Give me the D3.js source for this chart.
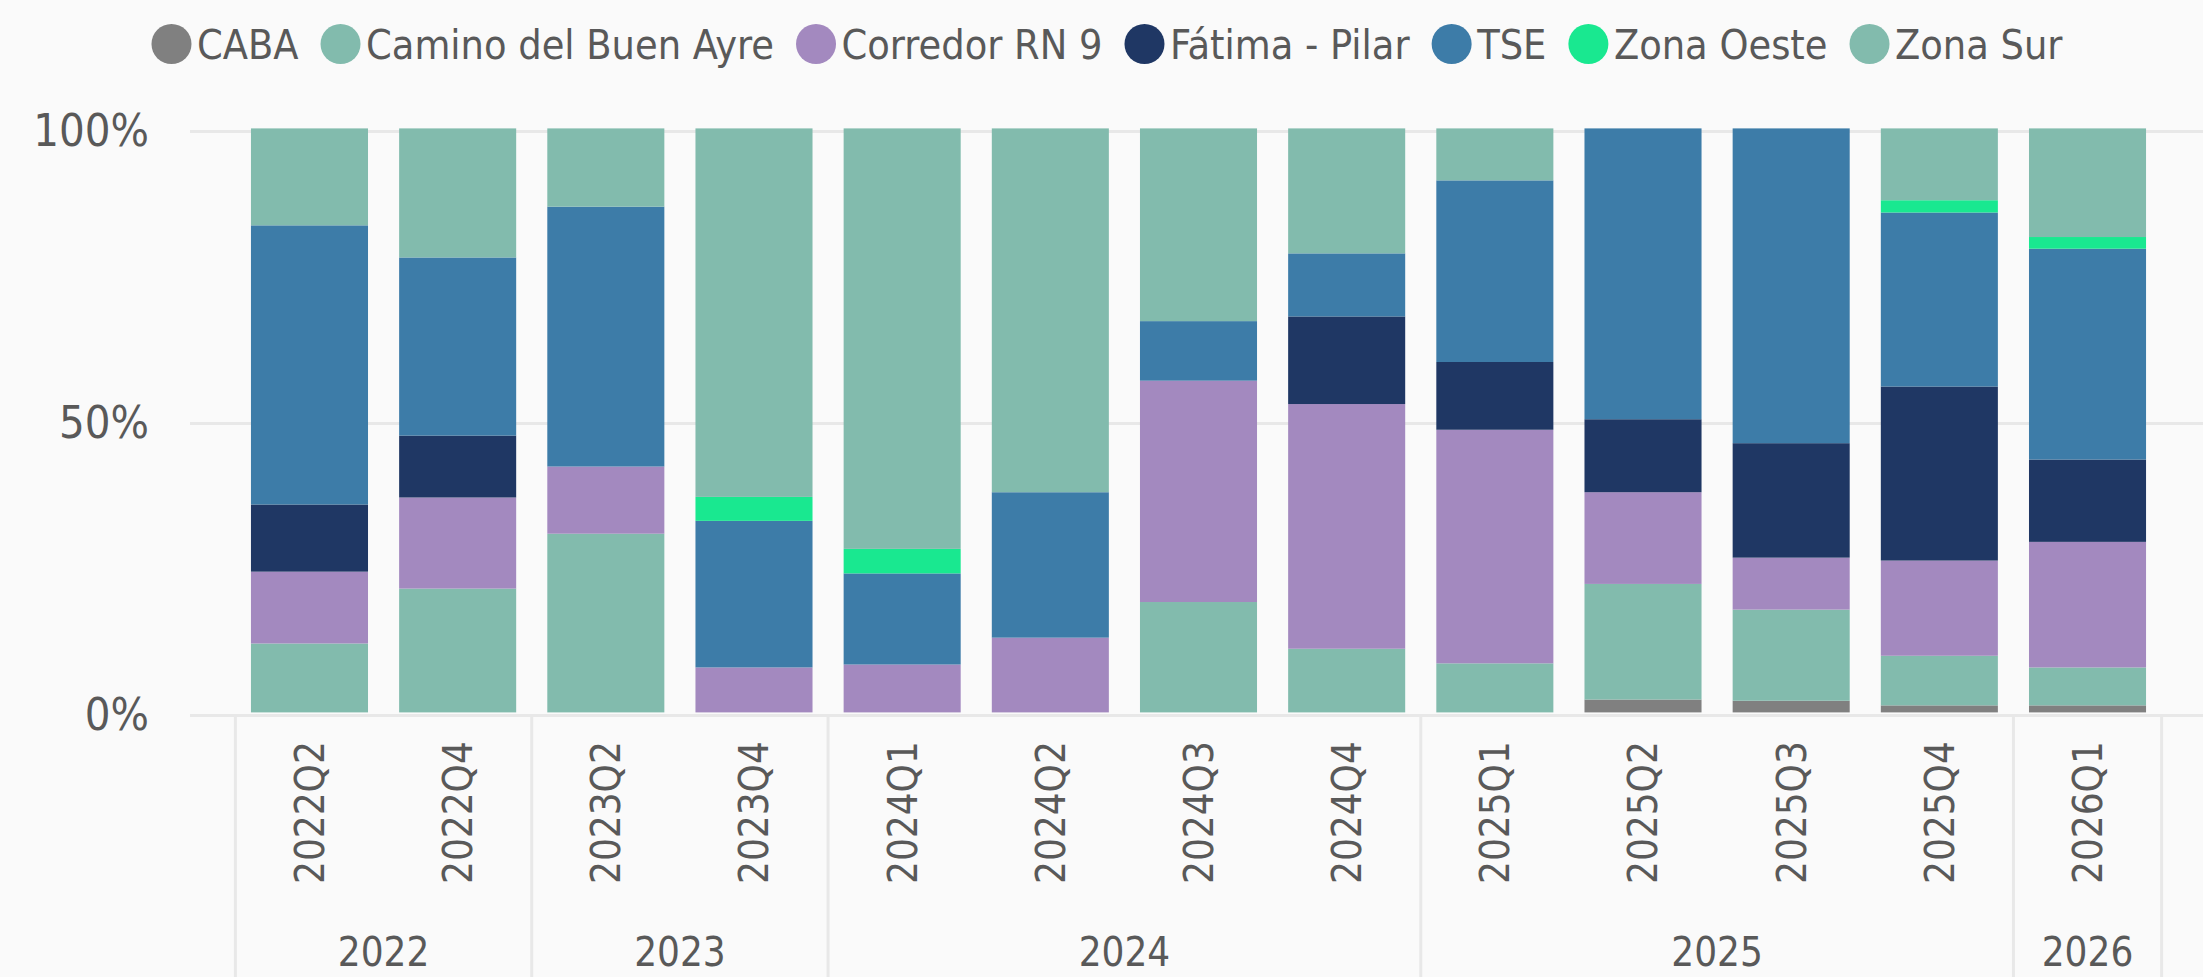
<!DOCTYPE html>
<html>
<head>
<meta charset="utf-8">
<script src="https://cdn.jsdelivr.net/npm/d3@7"></script>
<style>
  body { margin: 0; background: #fafafa; }
  svg { display: block; font-family: "DejaVu Sans Condensed", "DejaVu Sans", sans-serif; }
</style>
</head>
<body>
<div id="chart"></div>
<script>
//global data
var quarters = ['2022Q2', '2022Q4', '2023Q2', '2023Q4', '2024Q1', '2024Q2', '2024Q3', '2024Q4', '2025Q1', '2025Q2', '2025Q3', '2025Q4', '2026Q1'];
var yearLabels = ['2022', '2023', '2024', '2025', '2026'];
var seriesNames = ['CABA', 'Camino del Buen Ayre', 'Corredor RN 9', 'Fátima - Pilar', 'TSE', 'Zona Oeste', 'Zona Sur'];
var seriesColors = ['#808080', '#82bbad', '#a389bf', '#1f3764', '#3d7ca8', '#19e890', '#82bbad'];

// shares in %, one value per quarter
var caba     = [0, 0, 0, 0, 0, 0, 0, 0, 0, 2.2, 2.0, 1.2, 1.2];
var camino   = [11.8, 21.2, 30.6, 0, 0, 0, 18.9, 10.9, 8.4, 19.8, 15.6, 8.5, 6.5];
var corredor = [12.3, 15.6, 11.5, 7.7, 8.2, 12.8, 37.9, 41.9, 40.0, 15.7, 8.9, 16.3, 21.5];
var fatima   = [11.5, 10.6, 0, 0, 0, 0, 0, 15.0, 11.6, 12.5, 19.6, 29.8, 14.1];
var tse      = [47.8, 30.5, 44.5, 25.1, 15.6, 24.9, 10.2, 10.8, 31.1, 49.8, 53.9, 29.8, 36.1];
var oeste    = [0, 0, 0, 4.1, 4.2, 0, 0, 0, 0, 0, 0, 2.1, 2.0];
var sur      = [16.6, 22.1, 13.4, 63.1, 72.0, 62.3, 33.0, 21.4, 8.9, 0, 0, 12.3, 18.6];

var seriesValues = [caba, camino, corredor, fatima, tse, oeste, sur];

var width = 2203,
    height = 977;
var textColor = '#595959';
var gridColor = '#e8e8e8';

// build rows for d3.stack
var rows = quarters.map(function(q, i) {
  var row = { quarter: q, year: q.slice(0, 4) };
  seriesNames.forEach(function(name, k) {
    row[name] = seriesValues[k][i];
  });
  return row;
});

var stack = d3.stack()
  .keys(seriesNames)
  .offset(d3.stackOffsetExpand);
var layers = stack(rows);

//scales
var x = d3.scaleBand()
  .domain(quarters)
  .range([235.4, 2161.6])
  .paddingInner(0.21)
  .paddingOuter(0.105);

var y = d3.scaleLinear()
  .domain([0, 1])
  .range([712.4, 128.4]);

var color = d3.scaleOrdinal()
  .domain(seriesNames)
  .range(seriesColors);

var svg = d3.select('#chart').append('svg')
  .attr('width', width)
  .attr('height', height);

svg.append('rect')
  .attr('width', width)
  .attr('height', height)
  .attr('fill', '#fafafa');

//y axis with gridlines
var yAxis = svg.append('g')
  .attr('transform', 'translate(190,2.5)')
  .call(d3.axisLeft(y)
    .tickValues([0, 0.5, 1])
    .tickSize(-(width - 190))
    .tickPadding(41)
    .tickFormat(d3.format('.0%')));

yAxis.select('.domain').remove();
yAxis.selectAll('line')
  .attr('stroke', gridColor)
  .attr('stroke-width', 3);
yAxis.selectAll('text')
  .attr('fill', textColor)
  .attr('font-size', 45)
  .attr('font-family', '"DejaVu Sans Condensed", "DejaVu Sans", sans-serif');

//bars
var layer = svg.append('g')
  .selectAll('g')
  .data(layers)
  .enter().append('g')
  .attr('fill', function(d) {
    return color(d.key);
  });

layer.selectAll('rect')
  .data(function(d) {
    return d;
  })
  .enter().append('rect')
  .attr('x', function(d) {
    return x(d.data.quarter);
  })
  .attr('y', function(d) {
    return y(d[1]);
  })
  .attr('width', x.bandwidth())
  .attr('height', function(d) {
    return y(d[0]) - y(d[1]);
  });

//quarter labels, rotated
var xAxis = svg.append('g')
  .attr('transform', 'translate(0,884)')
  .call(d3.axisBottom(x).tickSize(0).tickPadding(0));

xAxis.select('.domain').remove();
xAxis.selectAll('text')
  .attr('transform', 'rotate(-90)')
  .attr('x', 0)
  .attr('y', 0)
  .attr('dy', '0.36em')
  .attr('text-anchor', 'start')
  .attr('fill', textColor)
  .attr('font-size', 40)
  .attr('font-family', '"DejaVu Sans Condensed", "DejaVu Sans", sans-serif');

//year groups: separators + labels
var gap = x.step() * x.paddingInner();
var groups = yearLabels.map(function(yr) {
  var qs = quarters.filter(function(q) { return q.slice(0, 4) === yr; });
  return {
    year: yr,
    x0: x(qs[0]) - gap / 2,
    x1: x(qs[qs.length - 1]) + x.bandwidth() + gap / 2
  };
});

var sepX = groups.map(function(g) { return g.x0; });
sepX.push(groups[groups.length - 1].x1);

svg.append('g')
  .selectAll('line')
  .data(sepX)
  .enter().append('line')
  .attr('x1', function(d) { return d; })
  .attr('x2', function(d) { return d; })
  .attr('y1', 716)
  .attr('y2', height)
  .attr('stroke', gridColor)
  .attr('stroke-width', 3);

svg.append('g')
  .selectAll('text')
  .data(groups)
  .enter().append('text')
  .attr('x', function(d) { return (d.x0 + d.x1) / 2; })
  .attr('y', 966)
  .attr('text-anchor', 'middle')
  .attr('fill', textColor)
  .attr('font-size', 40)
  .text(function(d) { return d.year; });

//legend
var legend = svg.append('g')
  .attr('transform', 'translate(0,44)');

var items = legend.selectAll('g')
  .data(seriesNames)
  .enter().append('g');

items.append('circle')
  .attr('cx', 20)
  .attr('cy', 0)
  .attr('r', 20)
  .attr('fill', color);

items.append('text')
  .attr('x', 45.5)
  .attr('y', 0)
  .attr('dy', '0.36em')
  .attr('fill', textColor)
  .attr('font-size', 41)
  .text(function(d) { return d; });

var pos = 0;
var offsets = [];
items.each(function() {
  offsets.push(pos);
  pos += 45.5 + d3.select(this).select('text').node().getComputedTextLength() + 22;
});
var legendWidth = pos - 22;
var legendStart = 1107 - legendWidth / 2;
items.attr('transform', function(d, i) {
  return 'translate(' + (legendStart + offsets[i]) + ',0)';
});
</script>
</body>
</html>
